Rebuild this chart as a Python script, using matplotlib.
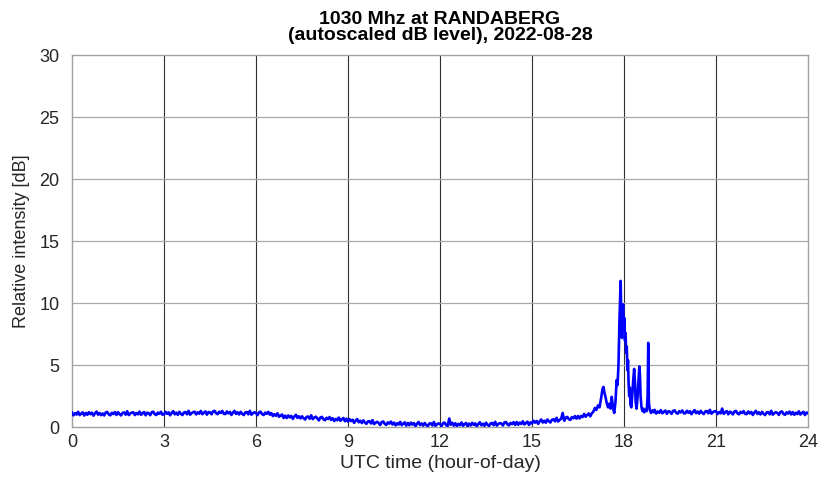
import numpy as np
import matplotlib.pyplot as plt

plt.rcParams['font.family'] = ['Liberation Sans', 'DejaVu Sans']

# 00:00 - 17:00, one reading every 3 minutes (0.05 h), one row per half hour
quiet_am_db = [
    1.18, 0.96, 1.13, 1.02, 1.24, 0.98, 1.10, 1.20, 0.94, 1.15,
    1.00, 1.21, 1.05, 1.17, 0.93, 1.12, 1.26, 1.01, 1.14, 0.97,
    1.11, 0.95, 1.19, 1.23, 1.03, 0.96, 1.16, 1.06, 1.22, 0.99,
    1.21, 1.05, 0.95, 1.16, 1.19, 1.01, 1.29, 0.98, 1.10, 1.18,
    1.20, 0.98, 1.15, 1.04, 1.26, 1.00, 1.12, 1.22, 0.96, 1.17,
    1.13, 0.97, 1.21, 1.25, 1.05, 0.98, 1.18, 1.08, 1.24, 1.01,
    1.03, 1.24, 1.08, 1.20, 0.96, 1.15, 1.29, 1.04, 1.17, 1.00,
    1.24, 1.08, 0.98, 1.19, 1.22, 1.04, 1.32, 1.01, 1.13, 1.21,
    1.25, 1.03, 1.20, 1.09, 1.31, 1.05, 1.17, 1.27, 1.01, 1.22,
    1.20, 1.04, 1.28, 1.32, 1.12, 1.05, 1.25, 1.15, 1.31, 1.08,
    1.06, 1.27, 1.11, 1.23, 0.99, 1.18, 1.32, 1.07, 1.20, 1.03,
    1.24, 1.08, 0.98, 1.19, 1.22, 1.04, 1.32, 1.01, 1.13, 1.21,
    1.13, 0.97, 1.21, 1.25, 1.05, 0.98, 1.18, 1.08, 1.24, 1.01,
    1.14, 0.90, 1.05, 0.92, 1.12, 0.84, 0.94, 1.02, 0.74, 0.93,
    0.74, 0.95, 0.79, 0.91, 0.67, 0.86, 1.00, 0.75, 0.88, 0.71,
    0.88, 0.72, 0.62, 0.83, 0.86, 0.68, 0.96, 0.65, 0.77, 0.85,
    0.71, 0.55, 0.79, 0.83, 0.63, 0.56, 0.76, 0.66, 0.82, 0.59,
    0.72, 0.50, 0.67, 0.56, 0.78, 0.52, 0.64, 0.74, 0.48, 0.69,
    0.45, 0.65, 0.49, 0.60, 0.35, 0.53, 0.66, 0.40, 0.52, 0.34,
    0.55, 0.38, 0.27, 0.47, 0.49, 0.30, 0.57, 0.25, 0.36, 0.43,
    0.34, 0.18, 0.42, 0.46, 0.26, 0.19, 0.39, 0.29, 0.45, 0.22,
    0.37, 0.15, 0.32, 0.21, 0.43, 0.17, 0.29, 0.39, 0.13, 0.34,
    0.16, 0.37, 0.21, 0.33, 0.09, 0.28, 0.42, 0.17, 0.30, 0.13,
    0.34, 0.18, 0.08, 0.29, 0.32, 0.14, 0.42, 0.11, 0.23, 0.31,
    0.25, 0.09, 0.33, 0.37, 0.17, 0.10, 0.70, 0.20, 0.36, 0.13,
    0.32, 0.10, 0.27, 0.16, 0.38, 0.12, 0.24, 0.34, 0.08, 0.29,
    0.14, 0.35, 0.19, 0.31, 0.07, 0.26, 0.40, 0.15, 0.28, 0.11,
    0.36, 0.20, 0.10, 0.31, 0.34, 0.16, 0.44, 0.13, 0.25, 0.33,
    0.30, 0.14, 0.38, 0.42, 0.22, 0.15, 0.35, 0.25, 0.41, 0.18,
    0.42, 0.20, 0.37, 0.26, 0.48, 0.22, 0.34, 0.44, 0.18, 0.39,
    0.30, 0.52, 0.37, 0.50, 0.27, 0.47, 0.62, 0.38, 0.52, 0.36,
    0.62, 0.47, 0.38, 0.60, 0.64, 0.47, 0.76, 0.46, 0.59, 0.68,
    1.15, 0.52, 0.77, 0.83, 0.65, 0.59, 0.81, 0.72, 0.90, 0.69,
    0.90, 0.71, 0.91, 0.82, 1.07, 0.84, 0.99, 1.11, 0.88, 1.12,
    1.25,
]

# burst around 18 UTC, irregular sampling
burst_hour = [
    17.05, 17.10, 17.15, 17.20, 17.25, 17.30, 17.33, 17.36, 17.40, 17.44,
    17.48, 17.52, 17.56, 17.60, 17.64, 17.68, 17.72, 17.76, 17.79, 17.82,
    17.85, 17.87, 17.89, 17.91, 17.93, 17.95, 17.97, 17.99, 18.01, 18.03,
    18.05, 18.07, 18.09, 18.11, 18.13, 18.15, 18.17, 18.19, 18.21, 18.24,
    18.27, 18.30, 18.33, 18.36, 18.38, 18.41, 18.44, 18.47, 18.50, 18.52,
    18.54, 18.57, 18.60, 18.63, 18.66, 18.70, 18.74, 18.77, 18.79, 18.81,
    18.84, 18.88, 18.93, 18.97, 19.00,
]
burst_db = [
    1.55, 1.40, 1.75, 1.60, 2.30, 3.10, 3.25, 2.80, 2.40, 1.90,
    1.60, 1.90, 1.50, 2.45, 1.60, 1.15, 2.00, 3.80, 3.40, 5.10,
    8.50, 10.2, 11.8, 9.00, 7.20, 9.40, 9.90, 8.00, 8.80, 7.00,
    7.60, 6.00, 6.50, 4.60, 5.40, 3.50, 2.50, 3.20, 1.80, 1.60,
    2.60, 3.80, 4.70, 3.50, 2.00, 1.50, 2.40, 3.60, 4.90, 4.20,
    2.50, 1.60, 1.30, 1.50, 1.20, 1.40, 1.30, 2.50, 6.80, 2.00,
    1.40, 1.15, 1.35, 1.20, 1.40,
]

# 19:03 - 24:00, every 0.05 h
quiet_pm_db = [
    1.10, 1.27, 1.16, 1.38, 1.12, 1.24, 1.34, 1.08, 1.29,
    1.24, 1.08, 1.32, 1.36, 1.16, 1.09, 1.29, 1.19, 1.35, 1.12,
    1.12, 1.33, 1.17, 1.29, 1.05, 1.24, 1.38, 1.13, 1.26, 1.09,
    1.32, 1.16, 1.06, 1.27, 1.30, 1.12, 1.40, 1.09, 1.21, 1.29,
    1.28, 1.06, 1.23, 1.12, 1.50, 1.08, 1.20, 1.30, 1.04, 1.25,
    1.19, 1.03, 1.27, 1.31, 1.11, 1.04, 1.24, 1.14, 1.30, 1.07,
    1.06, 1.27, 1.11, 1.23, 0.99, 1.18, 1.32, 1.07, 1.20, 1.03,
    1.24, 1.08, 0.98, 1.19, 1.22, 1.04, 1.32, 1.01, 1.13, 1.21,
    1.15, 0.99, 1.23, 1.27, 1.07, 1.00, 1.20, 1.10, 1.26, 1.03,
    1.22, 1.00, 1.17, 1.06, 1.28, 1.02, 1.14, 1.24, 0.98, 1.19,
    1.12,
]

am_hour = np.round(np.arange(len(quiet_am_db)) * 0.05, 2)
pm_hour = np.round(19.05 + np.arange(len(quiet_pm_db)) * 0.05, 2)

hours = np.concatenate([am_hour, burst_hour, pm_hour])
level = np.concatenate([quiet_am_db, burst_db, quiet_pm_db])

x_ticks = [0, 3, 6, 9, 12, 15, 18, 21, 24]
y_ticks = [0, 5, 10, 15, 20, 25, 30]

fig = plt.figure(figsize=(8.21, 4.80), dpi=100)
ax = fig.add_axes([0.0877, 0.110, 0.8965, 0.775])

for t in x_ticks[1:-1]:
    ax.axvline(t, color='#303030', lw=0.8, zorder=1)
for v in y_ticks[1:-1]:
    ax.axhline(v, color='#a8a8a8', lw=0.9, zorder=1)

ax.plot(hours, level, color='#0000ff', lw=1.9, zorder=3)

ax.set_xlim(0, 24)
ax.set_ylim(0, 30)
ax.set_xticks(x_ticks)
ax.set_yticks(y_ticks)
ax.tick_params(length=0, labelsize=13, labelcolor='#262626')
ax.tick_params(axis='y', pad=9)
ax.tick_params(axis='x', pad=5)
for s in ax.spines.values():
    s.set_color('#a0a0a0')
    s.set_linewidth(1.0)

ax.set_xlabel('UTC time (hour-of-day)', fontsize=14, labelpad=3,
              color='#262626')
ax.set_ylabel('Relative intensity [dB]', fontsize=13, labelpad=7,
              color='#262626')
ax.set_title('1030 Mhz at RANDABERG\n(autoscaled dB level), 2022-08-28',
             fontsize=14, fontweight='bold', pad=11, linespacing=0.9)

fig.savefig('out.png', dpi=100)
